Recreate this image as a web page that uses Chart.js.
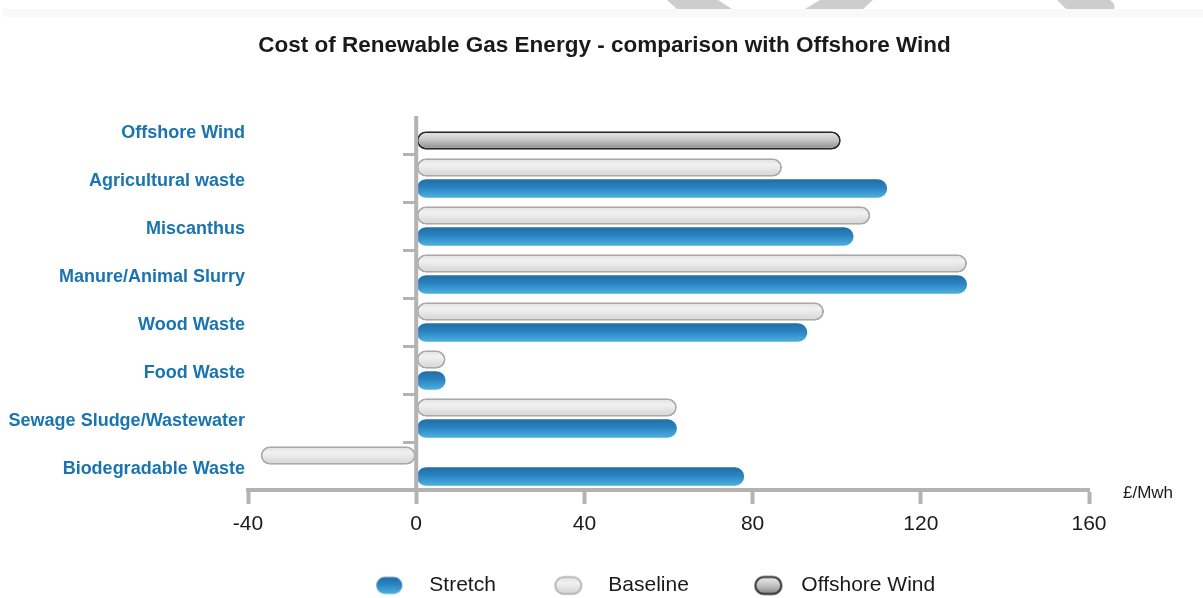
<!DOCTYPE html>
<html>
<head>
<meta charset="utf-8">
<script src="https://cdn.jsdelivr.net/npm/chart.js@4.4.1/dist/chart.umd.min.js"></script>
<style>
  html, body { margin: 0; padding: 0; background: #ffffff; }
  #wrap { position: relative; width: 1203px; height: 598px; overflow: hidden; }
  #deco { position: absolute; left: 0; top: 0; }
  #c { position: absolute; left: 0; top: 0; }
</style>
</head>
<body>
<div id="wrap">
  <svg id="deco" width="1203" height="30" xmlns="http://www.w3.org/2000/svg">
    <rect x="3" y="9" width="1200" height="8" fill="#f9f9f9"/>
    <polygon points="667,0 718,0 732,9 677,9" fill="#cdcdcd"/>
    <polygon points="820,0 873,0 863,9 805,9" fill="#cdcdcd"/>
    <path d="M1057,0 L1110,0 Q1116,4 1114,9 L1066,9 Z" fill="#cdcdcd"/>
  </svg>
  <canvas id="c" width="1203" height="598"></canvas>
</div>
<script>
// ---------- data ----------
const categories = ['Offshore Wind', 'Agricultural waste', 'Miscanthus', 'Manure/Animal Slurry',
                    'Wood Waste', 'Food Waste', 'Sewage Sludge/Wastewater', 'Biodegradable Waste'];
const stretch      = [null, 112, 104, 131, 93, 7, 62, 78];
const baseline     = [null, 87, 108, 131, 97, 7, 62, -37];
const offshoreWind = [101, null, null, null, null, null, null, null];
const seriesNames  = ['Stretch', 'Baseline', 'Offshore Wind'];
const xTicks       = [-40, 0, 40, 80, 120, 160];
const unitLabel    = '£/Mwh';
const chartTitle   = 'Cost of Renewable Gas Energy - comparison with Offshore Wind';

// ---------- style ----------
const FONT = '"Liberation Sans", Arial, Helvetica, sans-serif';
const AXIS_GREY = '#b3b3b3';
const CAT_PCT = 0.875;
const BAR_PCT = 0.88;
const STRETCH_STOPS  = [[0, '#226ca5'], [0.45, '#2b84c1'], [1, '#4bb0e0']];
const BASELINE_STOPS = [[0, '#dedede'], [0.35, '#f1f1f1'], [1, '#d2d2d2']];
const OFFSHORE_STOPS = [[0, '#ececec'], [0.5, '#c3c3c3'], [1, '#878787']];

function barGradient(stops, slot) {
  return function (ctx) {
    const chart = ctx.chart;
    const ys = chart.scales.y;
    if (!ys || ctx.dataIndex === undefined || !isFinite(ys.top) || ys.bottom <= ys.top) return stops[1][1];
    const cat = (ys.bottom - ys.top) / categories.length;
    const c = ys.getPixelForValue(ctx.dataIndex);
    const chunk = cat * CAT_PCT / 2;
    const mid = c - cat * CAT_PCT / 2 + chunk * (slot + 0.5);
    const h = chunk * BAR_PCT;
    const g = chart.ctx.createLinearGradient(0, mid - h / 2, 0, mid + h / 2);
    stops.forEach(s => g.addColorStop(s[0], s[1]));
    return g;
  };
}

function pillIcon(stops, border, bw, cxOffset) {
  const W = 80, H = 22, w = 26, h = 17;
  const cv = document.createElement('canvas');
  cv.width = W; cv.height = H;
  const c = cv.getContext('2d');
  const x = W / 2 + cxOffset - w / 2, y = (H - h) / 2;
  const g = c.createLinearGradient(0, y, 0, y + h);
  stops.forEach(s => g.addColorStop(s[0], s[1]));
  c.beginPath();
  c.roundRect(x, y, w, h, h / 2);
  c.fillStyle = g;
  c.fill();
  if (bw > 0) { c.lineWidth = bw; c.strokeStyle = border; c.stroke(); }
  return cv;
}
const legendIcons = [
  pillIcon(STRETCH_STOPS, null, 0, -21),
  pillIcon(BASELINE_STOPS, '#a9a9a9', 1.6, -21),
  pillIcon(OFFSHORE_STOPS, '#2b2b2b', 2, -14)
];

const extras = {
  id: 'extras',
  afterDatasetsDraw(chart) {
    const {ctx, chartArea, scales} = chart;
    const x0 = scales.x.getPixelForValue(0);
    ctx.save();
    ctx.strokeStyle = AXIS_GREY;
    ctx.lineWidth = 4;
    ctx.beginPath();
    ctx.moveTo(x0, chartArea.top + 10);
    ctx.lineTo(x0, chartArea.bottom);
    ctx.stroke();
    ctx.restore();
  },
  afterDraw(chart) {
    const {ctx, chartArea} = chart;
    ctx.save();
    ctx.font = '17px ' + FONT;
    ctx.fillStyle = '#1a1a1a';
    ctx.textAlign = 'left';
    ctx.textBaseline = 'middle';
    ctx.fillText(unitLabel, chartArea.right + 34, chartArea.bottom + 3);
    ctx.restore();
  }
};

new Chart(document.getElementById('c'), {
  type: 'bar',
  data: {
    labels: categories,
    datasets: [
      { label: seriesNames[0], data: stretch, stack: 'b', order: 2,
        backgroundColor: barGradient(STRETCH_STOPS, 1), borderWidth: 0 },
      { label: seriesNames[1], data: baseline, stack: 'a', order: 1,
        backgroundColor: barGradient(BASELINE_STOPS, 0), borderColor: '#a9a9a9', borderWidth: 2 },
      { label: seriesNames[2], data: offshoreWind, stack: 'b', order: 3,
        backgroundColor: barGradient(OFFSHORE_STOPS, 1), borderColor: '#2b2b2b', borderWidth: 2 }
    ]
  },
  options: {
    indexAxis: 'y',
    responsive: false,
    animation: false,
    devicePixelRatio: 1,
    layout: { padding: { left: 6, right: 0, top: 0, bottom: -8 } },
    datasets: {
      bar: { categoryPercentage: CAT_PCT, barPercentage: BAR_PCT, borderRadius: 10, borderSkipped: false }
    },
    scales: {
      x: {
        type: 'linear', position: 'bottom',
        min: xTicks[0], max: xTicks[xTicks.length - 1],
        // axis box kept flat so the legend sits where the reference has it;
        // mirrored labels with negative padding are drawn below the axis line, unclipped
        afterFit: (s) => { s.height = 0; },
        grid: { drawOnChartArea: false, drawTicks: true, tickLength: 14, tickWidth: 4, tickColor: AXIS_GREY },
        border: { display: true, color: AXIS_GREY, width: 4 },
        ticks: { stepSize: xTicks[1] - xTicks[0], autoSkip: false, mirror: true, padding: -47,
                 font: { family: FONT, size: 21 }, color: '#1a1a1a', maxRotation: 0 }
      },
      y: {
        type: 'category', position: 'left',
        afterFit: (s) => { s.width = 242; },
        grid: { display: false, drawTicks: false },
        border: { display: false },
        ticks: { autoSkip: false, padding: 3, labelOffset: 3, color: '#1a74b0',
                 font: { family: FONT, size: 18, weight: 'bold' } }
      },
      y2: {
        type: 'category', labels: categories, position: { x: 0 }, offset: true,
        grid: { offset: true, drawOnChartArea: false, drawTicks: true, tickLength: 13, tickWidth: 3,
                tickColor: (ctx) => (ctx.index >= 1 && ctx.index < categories.length) ? AXIS_GREY : 'rgba(0,0,0,0)' },
        border: { display: false },
        ticks: { display: false }
      },
      yR: {
        type: 'category', labels: categories, position: 'right',
        afterFit: (s) => { s.width = 114; },
        grid: { display: false, drawTicks: false },
        border: { display: false },
        ticks: { display: false }
      }
    },
    plugins: {
      title: {
        display: true, text: chartTitle, color: '#1a1a1a',
        font: { family: FONT, size: 22.5, weight: 'bold' },
        padding: { top: 32, bottom: 47 }
      },
      legend: {
        display: true, position: 'bottom', fullSize: false,
        labels: {
          usePointStyle: true, pointStyleWidth: 17, padding: 85,
          color: '#1a1a1a', font: { family: FONT, size: 21 },
          generateLabels: (chart) => chart.data.datasets.map((ds, i) => ({
            text: ds.label, datasetIndex: i, pointStyle: legendIcons[i],
            fillStyle: 'rgba(0,0,0,0)', strokeStyle: 'rgba(0,0,0,0)', lineWidth: 0,
            hidden: false, fontColor: '#1a1a1a'
          }))
        }
      },
      tooltip: { enabled: false }
    }
  },
  plugins: [extras]
});
</script>
</body>
</html>
